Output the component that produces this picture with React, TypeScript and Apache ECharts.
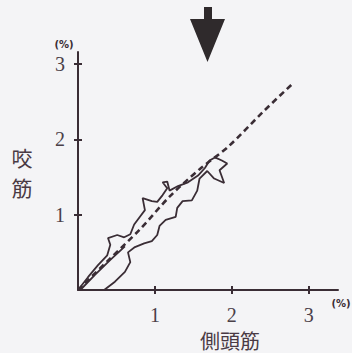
import React, { useEffect, useRef } from "react";
import * as echarts from "echarts";

const tickValues = [1, 2, 3];
const tickLabels = ["1", "2", "3"];
const xName = "側頭筋";
const yNameChars = ["咬", "筋"];
const unitLabel = "(%)";

// solid loop trace (x = 側頭筋 %, y = 咬筋 %)
const loopX = [0, 0.13, 0.26, 0.38, 0.42, 0.39, 0.51, 0.6, 0.68, 0.73, 0.81, 0.87, 0.84, 0.96, 1.03, 1.1, 1.16, 1.1, 1.16, 1.19, 1.3, 1.43, 1.56, 1.65, 1.71, 1.78, 1.87, 1.94, 1.84, 1.9, 1.77, 1.68, 1.58, 1.55, 1.48, 1.36, 1.29, 1.27, 1.14, 1.06, 1.03, 0.96, 0.86, 0.74, 0.65, 0.68, 0.61, 0.48, 0.34, 0];
const loopY = [0, 0.17, 0.33, 0.46, 0.6, 0.69, 0.73, 0.7, 0.74, 0.87, 0.98, 1.06, 1.22, 1.18, 1.17, 1.26, 1.35, 1.43, 1.44, 1.32, 1.38, 1.43, 1.52, 1.62, 1.72, 1.76, 1.72, 1.68, 1.59, 1.42, 1.48, 1.58, 1.48, 1.32, 1.19, 1.18, 1.09, 0.97, 0.93, 0.85, 0.73, 0.65, 0.62, 0.57, 0.5, 0.37, 0.24, 0.11, 0, 0];
// inner band line
const innerX = [0.61, 0.42, 0.22, 0.03];
const innerY = [0.58, 0.4, 0.2, 0];
// dashed line
const dashX = [0, 0.4, 0.8, 1.2, 1.6, 1.95, 2.4, 2.79];
const dashY = [0, 0.4, 0.8, 1.25, 1.62, 1.9, 2.36, 2.74];

const INK = "#3a2d35";
const SERIF = "Liberation Serif";

export default function App() {
  const ref = useRef<HTMLDivElement>(null);
  useEffect(() => {
    const chart = echarts.init(ref.current!, null, { renderer: "svg" });
    const zip = (xs: number[], ys: number[]) => xs.map((x, i) => [x, ys[i]]);
    const fmt = (v: number) => tickLabels[tickValues.indexOf(v)] ?? "";
    const labelStyle = { fontFamily: SERIF, fontSize: 20, color: "#4a4048" };
    chart.setOption({
      animation: false,
      backgroundColor: "#f4f4f6",
      grid: { left: 78, right: 14, top: 52, bottom: 63 },
      xAxis: [
        {
          type: "value", min: 0, max: 3.38, interval: 1,
          splitLine: { show: false },
          axisLine: { show: true, lineStyle: { color: INK, width: 2 } },
          axisTick: { show: true, length: 4, customValues: tickValues, lineStyle: { color: INK, width: 2 } },
          axisLabel: { show: true, formatter: fmt, margin: 15, showMinLabel: false, showMaxLabel: false, ...labelStyle },
        },
        {
          type: "value", min: 0, max: 3.38, position: "bottom",
          splitLine: { show: false },
          axisLine: { show: false },
          axisTick: { show: true, inside: true, length: 4, customValues: tickValues, lineStyle: { color: INK, width: 2 } },
          axisLabel: { show: false },
        },
      ],
      yAxis: [
        {
          type: "value", min: 0, max: 3.16, interval: 1,
          splitLine: { show: false },
          axisLine: { show: true, lineStyle: { color: INK, width: 2 } },
          axisTick: { show: true, length: 4, customValues: tickValues, lineStyle: { color: INK, width: 2 } },
          axisLabel: { show: true, formatter: fmt, margin: 13, showMinLabel: false, showMaxLabel: false, ...labelStyle },
        },
        {
          type: "value", min: 0, max: 3.16, position: "left",
          splitLine: { show: false },
          axisLine: { show: false },
          axisTick: { show: true, inside: true, length: 4, customValues: tickValues, lineStyle: { color: INK, width: 2 } },
          axisLabel: { show: false },
        },
      ],
      series: [
        {
          type: "line", data: zip(loopX, loopY), showSymbol: false, symbol: "none",
          lineStyle: { color: INK, width: 1.8 }, z: 3,
        },
        {
          type: "line", data: zip(innerX, innerY), showSymbol: false, symbol: "none",
          lineStyle: { color: INK, width: 1.8 }, z: 3,
        },
        {
          type: "line", data: zip(dashX, dashY), showSymbol: false, symbol: "none", smooth: 0.3,
          lineStyle: { color: INK, width: 2.6, type: [6, 4] }, z: 4,
        },
      ],
      graphic: [
        {
          type: "polygon",
          shape: { points: [[204, 7], [212, 7], [212, 19], [225, 19], [207.5, 62], [190, 19], [204, 19]] },
          style: { fill: "#2f2a2c" },
        },
        {
          type: "text", x: 64, y: 44,
          style: { text: unitLabel, fontSize: 10, fontWeight: "bold", fill: INK, align: "center", verticalAlign: "middle", fontFamily: "DejaVu Sans" },
        },
        {
          type: "text", x: 341, y: 303,
          style: { text: unitLabel, fontSize: 10, fontWeight: "bold", fill: INK, align: "center", verticalAlign: "middle", fontFamily: "DejaVu Sans" },
        },
        {
          type: "text", x: 22, y: 157,
          style: { text: yNameChars[0], fontSize: 21, fill: "#4a3a44", align: "center", verticalAlign: "middle", fontFamily: "Noto Sans CJK JP" },
        },
        {
          type: "text", x: 22, y: 187,
          style: { text: yNameChars[1], fontSize: 21, fill: "#4a3a44", align: "center", verticalAlign: "middle", fontFamily: "Noto Sans CJK JP" },
        },
        {
          type: "text", x: 230, y: 340,
          style: { text: xName, fontSize: 20, fill: "#4a3a44", align: "center", verticalAlign: "middle", fontFamily: "Noto Sans CJK JP" },
        },
      ],
    });
    return () => chart.dispose();
  }, []);
  return <div ref={ref} style={{ position: "fixed", left: 0, top: 0, width: 352, height: 353 }} />;
}
